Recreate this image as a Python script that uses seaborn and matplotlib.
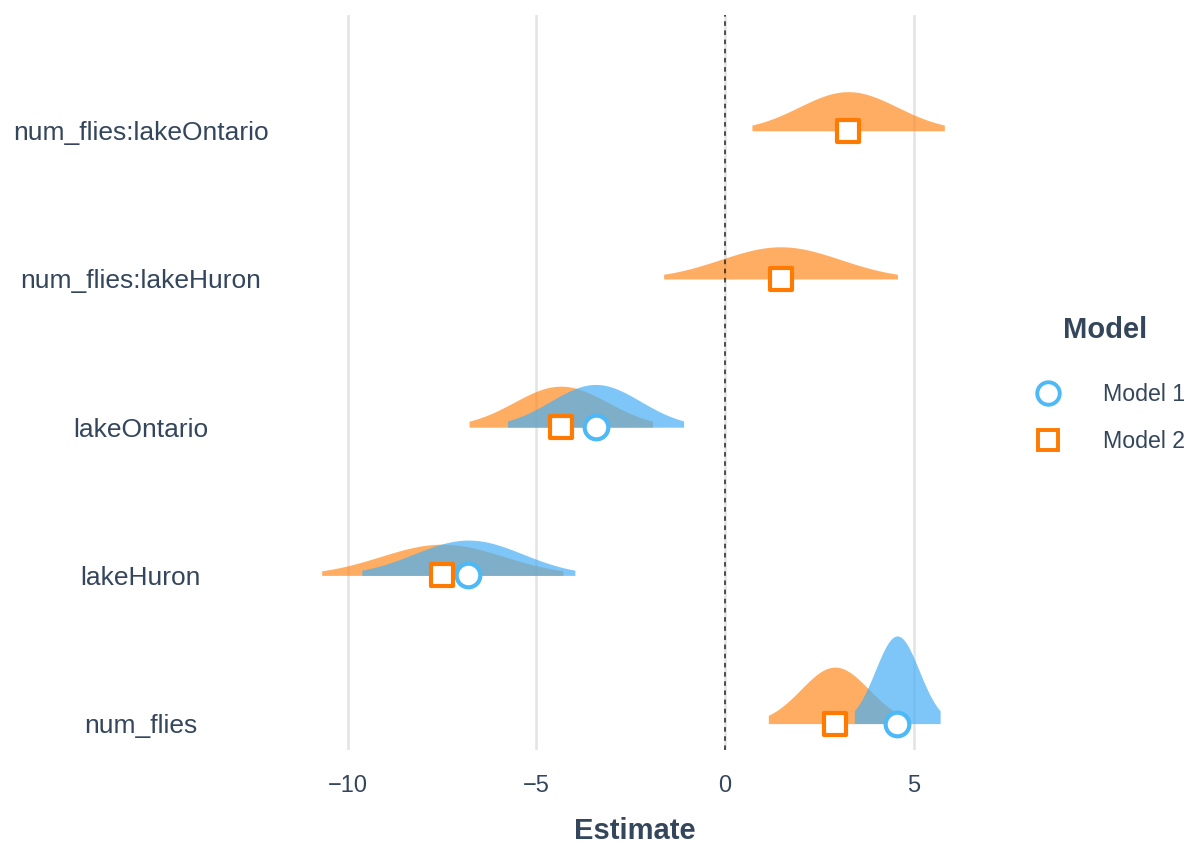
import numpy as np
import pandas as pd
import matplotlib
matplotlib.use("Agg")
import matplotlib.pyplot as plt
import seaborn as sns
from matplotlib.lines import Line2D

# ---------------------------------------------------------------
# Coefficient estimates
# ---------------------------------------------------------------
terms = ["num_flies", "lakeHuron", "lakeOntario",
         "num_flies:lakeHuron", "num_flies:lakeOntario"]

m1_terms = ["num_flies", "lakeHuron", "lakeOntario"]
m1_estimate = [4.56, -6.80, -3.43]
m1_std_error = [0.58, 1.44, 1.19]

m2_terms = ["num_flies", "lakeHuron", "lakeOntario",
            "num_flies:lakeHuron", "num_flies:lakeOntario"]
m2_estimate = [2.91, -7.49, -4.35, 1.47, 3.26]
m2_std_error = [0.90, 1.63, 1.24, 1.58, 1.30]

model_names = ["Model 1", "Model 2"]
fill_colors = {"Model 1": "#47AFF5", "Model 2": "#FF8A1F"}
edge_colors = {"Model 1": "#4DB9F6", "Model 2": "#FF7A00"}
markers = {"Model 1": "o", "Model 2": "s"}
marker_area = {"Model 1": 290, "Model 2": 240}

TEXT = "#34465C"

df = pd.concat([
    pd.DataFrame({"term": m1_terms, "estimate": m1_estimate,
                  "std_error": m1_std_error, "model": "Model 1"}),
    pd.DataFrame({"term": m2_terms, "estimate": m2_estimate,
                  "std_error": m2_std_error, "model": "Model 2"}),
], ignore_index=True)
df["row"] = df["term"].map({t: i for i, t in enumerate(terms)})

sns.set_theme(style="white")
plt.rcParams["font.family"] = ["Liberation Sans", "DejaVu Sans"]

fig = plt.figure(figsize=(11.96, 8.43), dpi=100)
ax = fig.add_axes([0.2467, 0.110, 0.5685, 0.872])

# density "slabs" truncated at the 95% interval, orange under blue
scale = 0.86
for model in ["Model 2", "Model 1"]:
    sub = df[df["model"] == model]
    for _, r in sub.iterrows():
        lo = r["estimate"] - 1.96 * r["std_error"]
        hi = r["estimate"] + 1.96 * r["std_error"]
        xs = np.linspace(lo, hi, 200)
        dens = np.exp(-0.5 * ((xs - r["estimate"]) / r["std_error"]) ** 2) / (
            r["std_error"] * np.sqrt(2 * np.pi))
        ax.fill_between(xs, r["row"], r["row"] + scale * dens,
                        color=fill_colors[model], alpha=0.7, linewidth=0,
                        zorder=2)

ax.axvline(0, color="#222222", linestyle=(0, (3, 3)), linewidth=1.1, zorder=3)

for model in model_names:
    sub = df[df["model"] == model]
    sns.scatterplot(data=sub, x="estimate", y="row", ax=ax,
                    marker=markers[model], s=marker_area[model],
                    facecolor="white", edgecolor=edge_colors[model],
                    linewidth=3, zorder=4, legend=False)

ax.set_xlim(-11.39, 6.62)
ax.set_ylim(-0.18, 4.78)
ax.set_xticks([-10, -5, 0, 5])
ax.set_xticklabels(["\u221210", "\u22125", "0", "5"])
ax.set_yticks(range(len(terms)))
ax.set_yticklabels(terms, ha="center")
ax.tick_params(axis="y", pad=111, labelsize=19, colors=TEXT, length=0)
ax.tick_params(axis="x", pad=18, labelsize=17, colors=TEXT, length=0)
ax.grid(axis="x", color="#E3E3E3", linewidth=1.8, zorder=0)
ax.grid(axis="y", visible=False)
ax.set_axisbelow(True)
for s in ax.spines.values():
    s.set_visible(False)
ax.set_xlabel("Estimate", fontsize=21, fontweight="bold", color=TEXT,
              labelpad=14)
ax.set_ylabel("")

handles = [Line2D([], [], linestyle="none", marker=markers[m],
                  markersize=np.sqrt(marker_area[m]) * 0.95,
                  markerfacecolor="white", markeredgecolor=edge_colors[m],
                  markeredgewidth=2.8, label=m) for m in model_names]
leg = fig.legend(handles=handles, loc="center left",
                 bbox_to_anchor=(0.839, 0.544), frameon=False,
                 title="Model", fontsize=16.7, handletextpad=1.4,
                 handlelength=2.0, labelspacing=1.05,
                 title_fontproperties={"weight": "bold", "size": 21})
leg.get_title().set_color(TEXT)
leg._legend_box.sep = 28
leg._legend_box.align = "center"
for t in leg.get_texts():
    t.set_color(TEXT)

fig.savefig("out.png", dpi=100)
